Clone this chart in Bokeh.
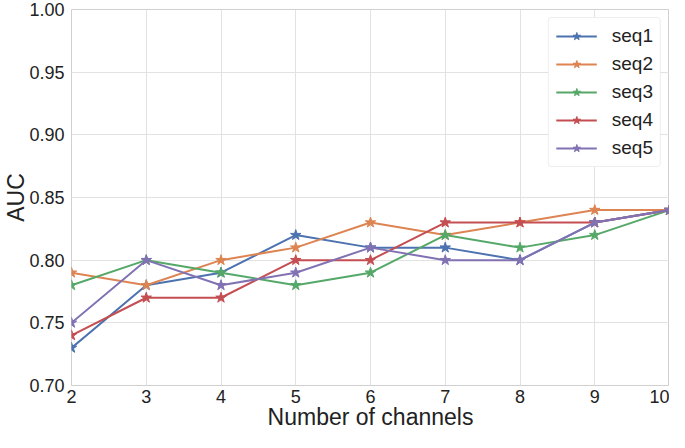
from bokeh.plotting import figure
from bokeh.embed import file_html
from bokeh.resources import INLINE
from bokeh.models import Range1d, FixedTicker, PrintfTickFormatter, Legend, LegendItem

channels = [2, 3, 4, 5, 6, 7, 8, 9, 10]
seq1 = [0.73, 0.78, 0.79, 0.82, 0.81, 0.81, 0.80, 0.83, 0.84]
seq2 = [0.79, 0.78, 0.80, 0.81, 0.83, 0.82, 0.83, 0.84, 0.84]
seq3 = [0.78, 0.80, 0.79, 0.78, 0.79, 0.82, 0.81, 0.82, 0.84]
seq4 = [0.74, 0.77, 0.77, 0.80, 0.80, 0.83, 0.83, 0.83, 0.84]
seq5 = [0.75, 0.80, 0.78, 0.79, 0.81, 0.80, 0.80, 0.83, 0.84]
names = ["seq1", "seq2", "seq3", "seq4", "seq5"]
series = [seq1, seq2, seq3, seq4, seq5]
colors = ["#4C72B0", "#DD8452", "#55A868", "#C44E52", "#8172B3"]
y_ticks = [0.70, 0.75, 0.80, 0.85, 0.90, 0.95, 1.00]

FONT = "Liberation Sans"

p = figure(width=669, height=432, output_backend="svg", toolbar_location=None,
           x_range=Range1d(2, 10), y_range=Range1d(0.70, 1.00),
           min_border_left=0, min_border_right=0, min_border_top=9, min_border_bottom=0)

items = []
for name, ys, c in zip(names, series, colors):
    r1 = p.line(channels, ys, line_color=c, line_width=2)
    r2 = p.scatter(channels, ys, marker="star", size=11, fill_color=c, line_color=c)
    items.append(LegendItem(label=name, renderers=[r1, r2]))

legend = Legend(items=items, location="top_right")
legend.label_text_font = FONT
legend.label_text_font_size = "19px"
legend.label_text_color = "#222222"
legend.border_line_color = "#dddddd"
legend.border_radius = 4
legend.glyph_width = 41
legend.spacing = 6
legend.padding = 7
legend.margin = 8
legend.label_standoff = 15
p.add_layout(legend)

p.xaxis.ticker = FixedTicker(ticks=channels)
p.yaxis.ticker = FixedTicker(ticks=y_ticks)
p.yaxis.formatter = PrintfTickFormatter(format="%.2f")
p.xaxis.axis_label = "Number of channels"
p.yaxis.axis_label = "AUC"
for ax in (p.xaxis, p.yaxis):
    ax.axis_label_text_font = FONT
    ax.axis_label_text_font_size = "23px"
    ax.axis_label_text_font_style = "normal"
    ax.axis_label_text_color = "#222222"
    ax.major_label_text_font = FONT
    ax.major_label_text_font_size = "18px"
    ax.major_label_text_color = "#222222"
    ax.axis_line_color = None
    ax.major_tick_line_color = None
    ax.minor_tick_line_color = None
    ax.major_tick_out = 0
    ax.major_tick_in = 0
    ax.minor_tick_out = 0
    ax.minor_tick_in = 0
p.xaxis.major_label_standoff = 4
p.xaxis.axis_label_standoff = -2
p.yaxis.major_label_standoff = 7
p.yaxis.axis_label_standoff = -3

p.grid.grid_line_color = "#e2e2e2"
p.grid.grid_line_width = 1
p.outline_line_color = "#d0d0d0"
p.outline_line_width = 1

open("out.html", "w").write(file_html(p, INLINE))
